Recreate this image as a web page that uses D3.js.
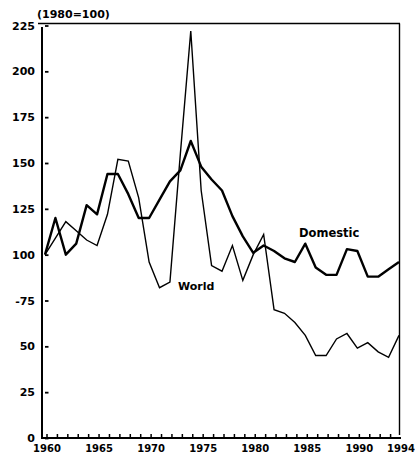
<!DOCTYPE html>
<html>
<head>
<meta charset="utf-8">
<script src="https://cdn.jsdelivr.net/npm/d3@7"></script>
<style>
  html, body { margin: 0; padding: 0; background: #fff; }
  svg { display: block; }
  text { font-family: "DejaVu Sans", sans-serif; font-weight: bold; fill: #000; }
</style>
</head>
<body>
<svg id="chart" width="415" height="457"></svg>
<script>
// Price indices, 1980 = 100
const years = [1960, 1961, 1962, 1963, 1964, 1965, 1966, 1967, 1968, 1969,
               1970, 1971, 1972, 1973, 1974, 1975, 1976, 1977, 1978, 1979,
               1980, 1981, 1982, 1983, 1984, 1985, 1986, 1987, 1988, 1989,
               1990, 1991, 1992, 1993, 1994];

const domestic = [100, 120, 100, 106, 127, 122, 144, 144, 133, 120,
                  120, 130, 140, 146, 162, 148, 141, 135, 121, 110,
                  101, 105, 102, 98, 96, 106, 93, 89, 89, 103,
                  102, 88, 88, 92, 96];

const world = [100, 109, 118, 113, 108, 105, 122, 152, 151, 131,
               96, 82, 85, 155, 222, 135, 94, 91, 105, 86,
               100, 111, 70, 68, 63, 56, 45, 45, 54, 57,
               49, 52, 47, 44, 56];

const yTicks = [0, 25, 50, 75, 100, 125, 150, 175, 200, 225];
const yTickLabels = ["0", "25", "50", "-75", "100", "125", "150", "175", "200", "225"];
const xLabelYears = [1960, 1965, 1970, 1975, 1980, 1985, 1990, 1994];
const unitLabel = "(1980=100)";
const seriesLabels = { world: "World", domestic: "Domestic" };

const svg = d3.select("#chart");

const x = d3.scaleLinear().domain([1960, 1994]).range([45, 399]);
const y = d3.scaleLinear().domain([0, 225]).range([438, 25.5]);

// Frame: top rule and right edge
svg.append("line")
  .attr("x1", 38).attr("x2", 400).attr("y1", 23.5).attr("y2", 23.5)
  .attr("stroke", "#000").attr("stroke-width", 1.6);
svg.append("line")
  .attr("x1", 399.5).attr("x2", 399.5).attr("y1", 23.5).attr("y2", 435)
  .attr("stroke", "#000").attr("stroke-width", 1.4);

// Y axis
const yAxis = d3.axisLeft(y)
  .tickValues(yTicks)
  .tickSize(0)
  .tickPadding(7)
  .tickFormat((d, i) => yTickLabels[i]);
const gy = svg.append("g").attr("transform", "translate(42,0)").call(yAxis);
gy.select(".domain").remove();
gy.selectAll("text").attr("font-size", 11).attr("font-family", "DejaVu Sans").attr("font-weight", "bold");
gy.selectAll(".tick").append("line")
  .attr("x1", 3).attr("x2", 6.5)
  .attr("stroke", "#000").attr("stroke-width", 1.8);
svg.append("line")
  .attr("x1", 42).attr("x2", 42).attr("y1", 27).attr("y2", 438.5)
  .attr("stroke", "#000").attr("stroke-width", 2);

// X axis: a small upward tick each year, labels on selected years
const xAxis = d3.axisBottom(x)
  .tickValues(years)
  .tickSizeInner(-4)
  .tickSizeOuter(0)
  .tickPadding(7)
  .tickFormat(d => xLabelYears.includes(d) ? String(d) : "");
const gx = svg.append("g").attr("transform", "translate(0,438)").call(xAxis);
gx.select(".domain").remove();
gx.selectAll(".tick line").attr("stroke-width", 1.5).attr("transform", "translate(1.5,0)");
gx.selectAll(".tick").filter(d => d === 1994).select("line").remove();
gx.selectAll("text")
  .attr("font-size", 10).attr("font-family", "DejaVu Sans").attr("font-weight", "bold")
  .attr("dx", 1.5);
svg.append("line")
  .attr("x1", 41).attr("x2", 401).attr("y1", 438).attr("y2", 438)
  .attr("stroke", "#000").attr("stroke-width", 2);

// Unit label
svg.append("text")
  .attr("x", 37).attr("y", 18)
  .attr("font-size", 11)
  .text(unitLabel);

// Series lines
const line = d3.line()
  .x((d, i) => x(years[i]))
  .y(d => y(d));

svg.append("path")
  .datum(world)
  .attr("d", line)
  .attr("fill", "none")
  .attr("stroke", "#000")
  .attr("stroke-width", 1.4)
  .attr("stroke-linejoin", "miter");

svg.append("path")
  .datum(domestic)
  .attr("d", line)
  .attr("fill", "none")
  .attr("stroke", "#000")
  .attr("stroke-width", 2.4)
  .attr("stroke-linejoin", "round");

// Series labels
svg.append("text")
  .attr("x", 178).attr("y", 290)
  .attr("font-size", 11)
  .text(seriesLabels.world);
svg.append("text")
  .attr("x", 299).attr("y", 237)
  .attr("font-size", 11.5)
  .text(seriesLabels.domestic);
</script>
</body>
</html>
